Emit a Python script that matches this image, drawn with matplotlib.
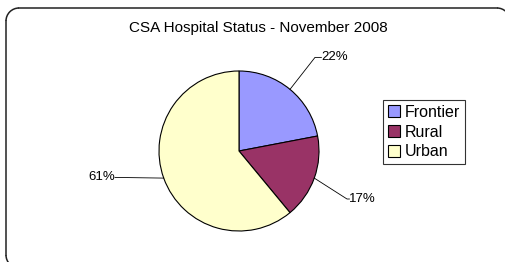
import numpy as np
import matplotlib
matplotlib.use("Agg")
import matplotlib.pyplot as plt
from matplotlib.patches import Arc

title = "CSA Hospital Status - November 2008"
categories = ["Frontier", "Rural", "Urban"]
shares = [22, 17, 61]
colors = ["#9999FF", "#993366", "#FFFFCC"]

W, H = 505, 262
plt.rcParams["font.family"] = ["Liberation Sans", "DejaVu Sans"]

fig = plt.figure(figsize=(W / 100, H / 100), dpi=100)
fig.patch.set_facecolor("white")

# background axes in pixel units for the rounded chart-area border;
# the right and bottom sides of the frame fall outside the picture
bg = fig.add_axes([0, 0, 1, 1])
bg.set_xlim(0, W)
bg.set_ylim(H, 0)
bg.axis("off")
left, top, right, bottom, rad = 6, 8, 510, 268, 13
edge = dict(color="#222222", lw=1.1)
bg.plot([left + rad, right - rad], [top, top], **edge)
bg.plot([left, left], [top + rad, bottom - rad], **edge)
for (x, y, t1, t2) in [(left + rad, top + rad, 180, 270), (right - rad, top + rad, 270, 360),
                       (left + rad, bottom - rad, 90, 180)]:
    bg.add_patch(Arc((x, y), 2 * rad, 2 * rad, theta1=t1, theta2=t2, **edge))

fig.text(258 / W, 1 - 28 / H, title, ha="center", va="center", fontsize=11)

# pie axes: centre (239,151) px, radius 80 px
cx, cy, r = 239, 151, 80
ax = fig.add_axes([(cx - r) / W, (H - cy - r) / H, 2 * r / W, 2 * r / H])
wedges, _ = ax.pie(shares, colors=colors, startangle=90, counterclock=False,
                   radius=1.0, wedgeprops=dict(edgecolor="black", linewidth=0.8))
ax.set_xlim(-1, 1)
ax.set_ylim(-1, 1)
ax.set_aspect("auto")
ax.axis("off")

# label layout: (elbow x, elbow y, text x, text y, ha)
label_pos = [
    (0.95, 1.17, 1.03, 1.17, "left"),
    (1.35, -0.60, 1.38, -0.60, "left"),
    (-1.55, -0.33, -1.55, -0.33, "right"),
]
for w, (ex, ey, tx, ty, ha), v in zip(wedges, label_pos, shares):
    mid = np.deg2rad((w.theta1 + w.theta2) / 2)
    px, py = np.cos(mid), np.sin(mid)
    ax.plot([px, ex, tx], [py, ey, ty], color="black", lw=0.6, clip_on=False)
    ax.text(tx, ty, f"{v}%", ha=ha, va="center", fontsize=9.5, clip_on=False)

leg = fig.legend(wedges, categories, loc="upper left",
                 bbox_to_anchor=(383 / W, 1 - 100 / H), fontsize=11.5,
                 frameon=True, fancybox=False, edgecolor="black",
                 handlelength=0.75, handleheight=0.75, handletextpad=0.3,
                 borderpad=0.3, labelspacing=0.3, borderaxespad=0)
leg.get_frame().set_linewidth(0.8)

fig.savefig("out.png", dpi=100)
